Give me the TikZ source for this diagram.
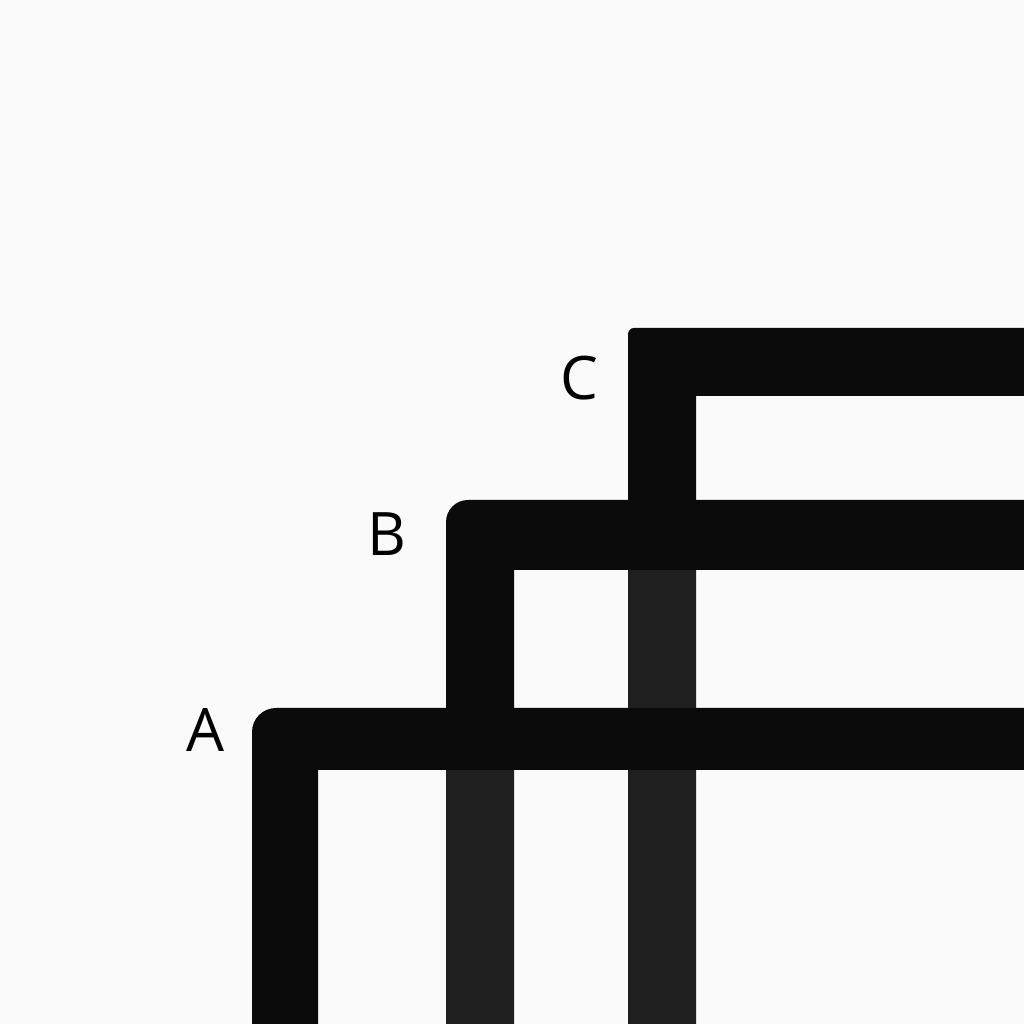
\documentclass[tikz,border=0pt]{standalone}
\usepackage{fontspec}
\setmainfont{Open Sans}
\definecolor{bg}{HTML}{FAFAFA}
\definecolor{bar}{HTML}{0B0B0B}
\definecolor{barback}{HTML}{1F1F1F}
\tikzset{
  framebar/.style={fill=bar},
  backbar/.style={fill=barback},
  lbl/.style={font=\fontsize{60}{60}\selectfont, text=black, inner sep=0pt}
}
\begin{document}
\begin{tikzpicture}[x=1pt,y=1pt]
\useasboundingbox (0,0) rectangle (1024,1024);
\fill[bg] (0,0) rectangle (1024,1024);
\clip (0,0) rectangle (1024,1024);
% Frame C
\fill[framebar] (628,-10) -- (628,690) arc[start angle=180,end angle=90,radius=6] -- (1034,696) -- (1034,628) -- (696,628) -- (696,-10) -- cycle;
% Frame B
\fill[framebar] (446,-10) -- (446,502) arc[start angle=180,end angle=90,radius=22] -- (1034,524) -- (1034,454) -- (514,454) -- (514,-10) -- cycle;
% Frame A
\fill[framebar] (252,-10) -- (252,292) arc[start angle=180,end angle=90,radius=24] -- (1034,316) -- (1034,254) -- (318,254) -- (318,-10) -- cycle;
% parts behind
\fill[backbar] (628,316) rectangle (696,454);
\fill[backbar] (628,-10) rectangle (696,254);
\fill[backbar] (446,-10) rectangle (514,254);
% labels
\node[lbl] (labC) at (579,646) {C};
\node[lbl] (labB) at (387,490) {B};
\node[lbl] (labA) at (205,294) {A};
\end{tikzpicture}
\end{document}
